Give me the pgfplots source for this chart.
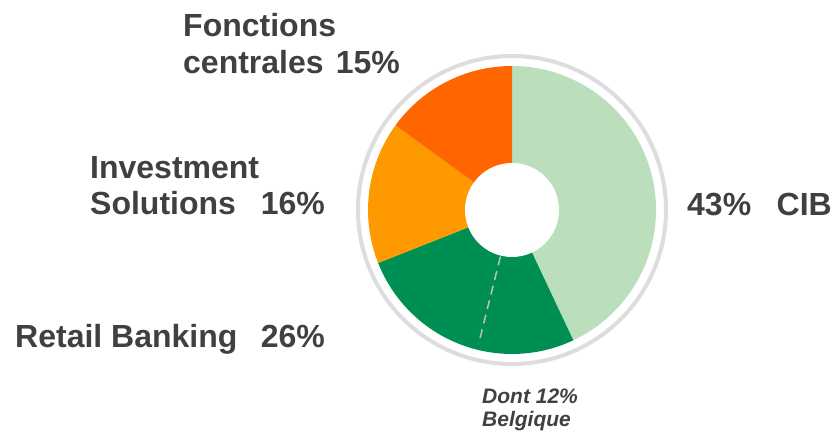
\documentclass[border=0pt]{standalone}
\usepackage{fontspec}
\setmainfont{Liberation Sans}
\usepackage{pgfplots}
\usepackage{pgfplotstable}
\pgfplotsset{compat=1.18}

\definecolor{cibc}{HTML}{BBDFBC}
\definecolor{retc}{HTML}{008F52}
\definecolor{invc}{HTML}{FF9900}
\definecolor{fonc}{HTML}{FF6600}
\definecolor{ringc}{HTML}{DDDDDD}
\definecolor{txt}{HTML}{404040}

% shares of revenue, clockwise from the top
\pgfplotstableread{
label pct col
CIB 43 cibc
Retail 26 retc
Invest 16 invc
Fonct 15 fonc
}\shares

\begin{document}
\begin{tikzpicture}
\begin{axis}[
    hide axis,
    scale only axis,
    width=836pt, height=433pt,
    xmin=0, xmax=836, ymin=0, ymax=433,
    clip=false,
]
    \path (axis cs:0,0) rectangle (axis cs:836,433);
    % outer ring
    \draw[ringc, line width=4pt] (axis cs:512,223) circle[radius=154pt];
    % slices
    \def\startA{90}
    \pgfplotsforeachungrouped \i in {0,...,3}{%
        \pgfplotstablegetelem{\i}{pct}\of\shares \let\slicepct\pgfplotsretval
        \pgfplotstablegetelem{\i}{col}\of\shares \let\slicecol\pgfplotsretval
        \pgfmathsetmacro\endA{\startA-3.6*\slicepct}
        \edef\slice{\noexpand\fill[\slicecol] (axis cs:512,223) -- ++(\startA:144pt)
            arc[start angle=\startA, end angle=\endA, radius=144pt] -- cycle;}
        \slice
        \global\let\startA\endA
    }
    % Belgique part of retail banking
    \draw[black!25, line width=1.5pt, dash pattern=on 9pt off 6pt]
        (axis cs:512,223) ++(-104:48pt) -- ++(-104:90pt);
    % hole
    \fill[white] (axis cs:512,223) circle[radius=47pt];

    % labels
    \begin{scope}[every node/.style={inner sep=0pt, text=txt, font=\fontsize{32}{37}\selectfont\bfseries}]
        \node[anchor=base west] at (axis cs:183,396) {Fonctions};
        \node[anchor=base west] at (axis cs:183,359) {centrales};
        \node[anchor=base east] at (axis cs:400,359) {15\%};
        \node[anchor=base west] at (axis cs:90,254) {Investment};
        \node[anchor=base west] at (axis cs:90,218) {Solutions};
        \node[anchor=base east] at (axis cs:325,218) {16\%};
        \node[anchor=base west] at (axis cs:15,85) {Retail Banking};
        \node[anchor=base east] at (axis cs:325,85) {26\%};
        \node[anchor=base west] at (axis cs:687,217) {43\%};
        \node[anchor=base east] at (axis cs:832,217) {CIB};
    \end{scope}
    \begin{scope}[every node/.style={inner sep=0pt, text=txt, font=\fontsize{21}{23}\selectfont\bfseries\itshape}]
        \node[anchor=base west] at (axis cs:482,29) {Dont 12\%};
        \node[anchor=base west] at (axis cs:482,6) {Belgique};
    \end{scope}
\end{axis}
\end{tikzpicture}
\end{document}
